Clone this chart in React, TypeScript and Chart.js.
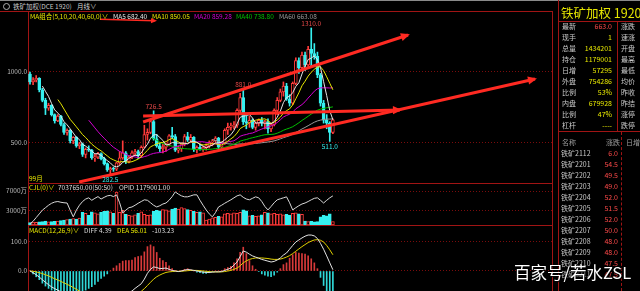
import React, { useEffect, useRef } from 'react';
import { Chart, registerables } from 'chart.js';

Chart.register(...registerables);

const FONT = '"Noto Sans CJK SC", "Noto Sans", sans-serif';
const RED = '#ff3a3a';
const CYAN = '#36f0f0';
const GRID = '#7a0c0c';
const FRAME = '#a01414';

// Monthly candles, Oct 2013 .. Dec 2021: [open, high, low, close]
const candles: number[][] = [
  [985, 1000, 915, 930], [930, 960, 910, 945], [945, 975, 930, 955], [955, 960, 860, 875],
  [875, 885, 790, 800], [800, 815, 700, 745], [745, 780, 730, 765], [765, 770, 690, 700],
  [700, 705, 640, 655], [655, 700, 650, 690], [690, 695, 620, 630], [630, 640, 560, 575],
  [575, 600, 555, 590], [590, 595, 500, 515], [515, 545, 495, 540], [540, 545, 470, 480],
  [480, 505, 460, 495], [495, 500, 405, 420], [420, 465, 395, 455], [455, 480, 440, 450],
  [450, 455, 385, 395], [395, 420, 370, 400], [400, 435, 390, 425], [425, 430, 380, 390],
  [390, 400, 345, 355], [355, 360, 300, 310], [310, 330, 282.5, 320], [320, 330, 300, 315],
  [315, 365, 305, 360], [360, 440, 345, 395], [395, 515, 385, 430], [430, 440, 355, 370],
  [370, 410, 360, 400], [400, 445, 390, 430], [430, 455, 410, 440], [440, 450, 390, 410],
  [410, 480, 400, 470], [470, 625, 465, 560], [560, 600, 520, 575], [575, 660, 565, 650],
  [650, 726.5, 520, 530], [530, 560, 470, 480], [480, 500, 440, 460], [460, 490, 430, 470],
  [470, 500, 440, 490], [490, 560, 480, 550], [550, 610, 530, 545], [545, 560, 440, 450],
  [450, 480, 430, 460], [460, 500, 440, 495], [495, 560, 480, 545], [545, 575, 510, 520],
  [520, 560, 505, 540], [540, 545, 440, 455], [455, 480, 430, 470], [470, 490, 450, 460],
  [460, 475, 440, 465], [465, 495, 450, 480], [480, 515, 465, 505], [505, 525, 480, 515],
  [515, 545, 505, 535], [535, 540, 455, 470], [470, 510, 455, 500], [500, 600, 490, 590],
  [590, 640, 560, 610], [610, 640, 590, 620], [620, 650, 600, 625], [625, 740, 610, 730],
  [730, 850, 700, 820], [820, 881, 630, 650], [650, 690, 600, 640], [640, 690, 610, 660],
  [660, 670, 600, 610], [610, 650, 590, 640], [640, 670, 620, 660], [660, 680, 620, 640],
  [640, 660, 600, 650], [650, 670, 570, 600], [600, 640, 580, 630], [630, 740, 620, 730],
  [730, 820, 700, 800], [800, 880, 790, 860], [860, 930, 830, 900], [900, 920, 800, 810],
  [810, 840, 760, 780], [780, 930, 770, 920], [920, 1100, 910, 1080], [1080, 1100, 990, 1030],
  [1030, 1140, 1010, 1120], [1120, 1140, 1010, 1050], [1050, 1180, 1040, 1160], [1160, 1310, 1040, 1130],
  [1130, 1200, 1090, 1110], [1110, 1140, 960, 980], [980, 990, 760, 780], [780, 800, 640, 660],
  [660, 700, 600, 640], [640, 650, 511, 575], [575, 670, 565, 663],
];

// volume (万手)
const volume = [
  500, 600, 550, 650, 700, 800, 650, 700, 750,
  800, 900, 1000, 1100, 1200, 1300, 1200, 1400,
  2600, 2400, 2000, 2700, 2500, 2300, 2600, 2800, 2900, 2700, 2400,
  6800,
  2600, 3000, 2200, 2000, 1900, 2100, 2400, 2700, 2200, 2000, 2100, 2800,
  3000, 2900, 3200, 3100, 2900, 3300,
  3500, 3300, 3600, 3400, 3200, 3000,
  2800, 2600, 2700, 2500, 1000, 1200,
  1500, 1600, 1800, 1700, 2300,
  2400, 2300, 2500, 2400, 2600,
  3100, 2900,
  1900, 2000, 1800, 1900, 2100,
  2600, 2500, 2300, 2400,
  2200, 2300, 2100, 2200, 2000,
  2400, 2500, 2300, 2200,
  800, 700, 750, 650, 700,
  1700, 2000, 1900, 2300,
  704,
];

// open interest (万手)
const openInterest = [
  5, 15, 30, 45, 60, 70, 80, 88, 93, 95, 92, 90, 89,
  60, 33, 60, 80, 95, 105, 110, 100, 108, 115, 105, 112, 118, 120, 115, 122,
  90, 49, 60, 70, 73, 80, 88, 95, 102, 100, 90, 80, 73, 78, 85, 89, 100, 115,
  134, 125, 118, 114, 114, 118, 122, 122, 100, 80, 61, 45, 33, 50, 73, 80,
  88, 95, 102, 110, 118, 122, 112, 105, 102, 108, 114, 110, 95, 75, 61, 75, 90,
  102, 106, 110, 114, 90, 61, 70, 78, 85, 89, 95, 102, 108, 110, 100, 89, 100, 110, 117.9,
];

const diff = [
  0, -6, -13, -21, -30, -39, -47, -55, -61, -66, -72, -78, -84, -90,
  -96, -101, -105, -109, -112, -114, -115, -115, -114, -112, -110, -108, -104, -99, -94, -88, -82, -78, -74, -69,
  -60, -52, -44, -28, -8, 6, 14, 12, 8, 9, 10, 6, 2,
  0, -2, 0, 3, 5, 4, 2, 0, -2, -4, -5, -5, -4, -3, -3, -2,
  2, 6, 10, 20, 31, 50, 69, 65, 58, 52, 48, 44, 40, 37, 34, 31,
  33, 38, 45, 55, 62, 75, 88, 100, 107, 114, 120, 124, 124, 121, 112, 95, 75, 52, 28, 4.39,
];

const dea = [
  0, -1, -3, -6, -9, -13, -17, -22, -27, -31, -36, -41, -46, -51,
  -57, -63, -69, -74, -79, -84, -88, -92, -96, -99, -101, -103, -104, -104, -103, -101, -99, -96, -92, -88,
  -83, -77, -70, -61, -50, -39, -28, -20, -14, -9, -5, -3, -2,
  -1, -1, -1, 0, 1, 2, 2, 2, 1, 0, -1, -2, -3, -3, -3, -3,
  -2, 0, 2, 6, 10, 18, 28, 35, 40, 43, 45, 45, 45, 44, 43, 41,
  40, 40, 41, 44, 48, 53, 60, 68, 76, 84, 91, 98, 103, 107, 108, 106, 100, 88, 73, 56.01,
];

const maPeriods = [5, 10, 20, 40, 60];
const maColors = ['#e6e6e6', '#e6e600', '#d400d4', '#00c000', '#9a9a9a'];
const maLegend = ['MA5 682.40', 'MA10 850.05', 'MA20 859.28', 'MA40 738.80', 'MA60 663.08'];

const priceTicks = [500, 1000];
const volumeTicks = [3000, 7000];
const macdTicks = [0, 100];

const peakLabels = [
  { i: 91, v: 1310, text: '1310.0', above: true },
  { i: 69, v: 881, text: '881.0', above: true },
  { i: 40, v: 726.5, text: '726.5', above: true },
  { i: 26, v: 282.5, text: '282.5', above: false },
  { i: 97, v: 511, text: '511.0', above: false },
];

// hand-drawn trend arrows, in (bar index, price) space
const trendLines = [
  { from: [15.9, 225.4], to: [163.4, 950.7], width: 3, head: 9 },
  { from: [36.6, 647.9], to: [122.3, 1260.6], width: 3, head: 9 },
  { from: [36.6, 690], to: [119.7, 732.4], width: 3, head: 9 },
  { from: [22.65, 1371], to: [40.45, 1361], width: 1.5, head: 6 },
];

const infoLabels = ['最新', '现手', '总量', '持仓', '日增', '外盘', '比例', '内盘', '比例', '杠杆'];
const infoValues = ['663.0', '1', '1434201', '1179001', '57295', '754286', '53%', '679928', '47%', '----'];
const infoRight = ['涨跌', '速涨', '开盘', '最高', '最低', '均价', '昨收', '昨结', '涨停', '跌停'];
const contracts = ['铁矿2112', '铁矿2201', '铁矿2202', '铁矿2203', '铁矿2204', '铁矿2205', '铁矿2206', '铁矿2207', '铁矿2208', '铁矿2209', '铁矿2210', '铁矿2211'];
const contractChange = ['6.0', '54.5', '49.5', '49.0', '52.0', '51.5', '52.0', '50.0', '48.0', '48.0', '47.5', '47.5'];

const X_MIN = -0.647;
const X_MAX = 168.9;

function yAxis(min: number, max: number, ticks: number[], fmt: (v: number) => string, extra: any = {}) {
  return {
    type: 'linear',
    position: 'left',
    min,
    max,
    afterBuildTicks: (s: any) => {
      s.ticks = ticks.map((v) => ({ value: v }));
    },
    afterFit: (s: any) => {
      s.width = 28;
      s.paddingTop = 0;
      s.paddingBottom = 0;
    },
    ticks: {
      color: '#b8b8b8',
      font: { size: 6.5, family: FONT },
      padding: 1,
      autoSkip: false,
      callback: (v: any) => fmt(Number(v)),
    },
    grid: { color: GRID, lineWidth: 1, drawTicks: false },
    border: { display: true, color: FRAME, width: 1, dash: [1, 2] },
    ...extra,
  };
}

const xAxis = { type: 'linear', min: X_MIN, max: X_MAX, display: false, offset: false };

const baseOptions = (scales: any) => ({
  responsive: false,
  animation: false,
  events: [],
  layout: { padding: 0 },
  plugins: { legend: { display: false }, tooltip: { enabled: false } },
  scales,
});

const arrowPlugin = {
  id: 'arrowHeads',
  afterDatasetsDraw(chart: any) {
    const ctx = chart.ctx;
    chart.data.datasets.forEach((ds: any, di: number) => {
      if (!ds.arrowHead) return;
      const pts = chart.getDatasetMeta(di).data;
      const a = pts[pts.length - 2];
      const b = pts[pts.length - 1];
      const ang = Math.atan2(b.y - a.y, b.x - a.x);
      const L = ds.arrowHead;
      const W = L * 0.45;
      const tx = b.x + Math.cos(ang) * 2;
      const ty = b.y + Math.sin(ang) * 2;
      const bx = tx - Math.cos(ang) * L;
      const by = ty - Math.sin(ang) * L;
      ctx.save();
      ctx.fillStyle = ds.borderColor;
      ctx.beginPath();
      ctx.moveTo(tx, ty);
      ctx.lineTo(bx - Math.sin(ang) * W, by + Math.cos(ang) * W);
      ctx.lineTo(bx + Math.sin(ang) * W, by - Math.cos(ang) * W);
      ctx.closePath();
      ctx.fill();
      ctx.restore();
    });
  },
};

const peakLabelPlugin = {
  id: 'peakLabels',
  afterDatasetsDraw(chart: any) {
    const { ctx } = chart;
    const xs = chart.scales.x;
    const ys = chart.scales.y;
    ctx.save();
    ctx.font = `6.5px ${FONT}`;
    ctx.textAlign = 'center';
    peakLabels.forEach((l) => {
      const px = xs.getPixelForValue(l.i);
      const py = ys.getPixelForValue(l.v);
      if (l.above) {
        ctx.fillStyle = '#e24848';
        ctx.textBaseline = 'bottom';
        ctx.fillText(l.text, px, py - 1);
      } else {
        ctx.fillStyle = CYAN;
        ctx.textBaseline = 'top';
        ctx.fillText(l.text, px, py + 2);
      }
    });
    ctx.restore();
  },
};

const isUp = (c: number[]) => c[3] >= c[0];

function Txt({ x, y, s = 6.5, c = '#c8c8c8', r = false, w = 120, children, style = {} }: any) {
  return (
    <div
      style={{
        position: 'absolute',
        left: r ? x - w : x,
        top: y - s,
        width: r ? w : undefined,
        height: s * 2,
        lineHeight: `${s * 2}px`,
        fontSize: s,
        color: c,
        textAlign: r ? 'right' : 'left',
        whiteSpace: 'nowrap',
        fontFamily: FONT,
        ...style,
      }}
    >
      {children}
    </div>
  );
}

function Line({ x, y, w, h, c = FRAME, dashed = false }: any) {
  return (
    <div
      style={{
        position: 'absolute',
        left: x,
        top: y,
        width: w,
        height: h,
        background: dashed ? 'none' : c,
        borderLeft: dashed && w <= 1 ? `1px dashed ${c}` : undefined,
        borderTop: dashed && h <= 1 ? `1px dashed ${c}` : undefined,
        boxSizing: 'border-box',
      }}
    />
  );
}

export default function App() {
  const priceRef = useRef<HTMLCanvasElement>(null);
  const volRef = useRef<HTMLCanvasElement>(null);
  const macdRef = useRef<HTMLCanvasElement>(null);

  useEffect(() => {
    const closes = candles.map((c) => c[3]);
    const ma = (n: number) => {
      const out: any[] = [];
      for (let i = n - 1; i < closes.length; i++) {
        let s = 0;
        for (let k = i - n + 1; k <= i; k++) s += closes[k];
        out.push({ x: i, y: s / n });
      }
      return out;
    };

    const priceDatasets: any[] = [];
    trendLines.forEach((t) => {
      priceDatasets.push({
        type: 'line',
        data: [{ x: t.from[0], y: t.from[1] }, { x: t.to[0], y: t.to[1] }],
        borderColor: '#ff2a22',
        borderWidth: t.width,
        pointRadius: 0,
        arrowHead: t.head,
        order: 0,
        clip: false,
      });
    });
    maPeriods.forEach((p, k) => {
      priceDatasets.push({
        type: 'line',
        data: ma(p),
        borderColor: maColors[k],
        borderWidth: 1,
        pointRadius: 0,
        tension: 0,
        order: 1,
      });
    });
    priceDatasets.push({
      type: 'bar',
      data: candles.map((c, i) => ({ x: i, y: [Math.min(c[0], c[3]), Math.max(c[0], c[3])] })),
      backgroundColor: candles.map((c) => (isUp(c) ? '#000000' : CYAN)),
      borderColor: candles.map((c) => (isUp(c) ? RED : CYAN)),
      borderWidth: 1,
      borderSkipped: false,
      barThickness: 3,
      minBarLength: 1,
      grouped: false,
      order: 2,
    });
    priceDatasets.push({
      type: 'bar',
      data: candles.map((c, i) => ({ x: i, y: [c[2], c[1]] })),
      backgroundColor: candles.map((c) => (isUp(c) ? RED : CYAN)),
      borderWidth: 0,
      barThickness: 1,
      grouped: false,
      order: 3,
    });

    const priceChart = new Chart(priceRef.current as any, {
      type: 'bar',
      data: { datasets: priceDatasets },
      options: baseOptions({
        x: xAxis,
        y: yAxis(218.3, 1422.5, priceTicks, (v) => v.toFixed(1)),
      }) as any,
      plugins: [arrowPlugin, peakLabelPlugin],
    } as any);

    const volChart = new Chart(volRef.current as any, {
      type: 'bar',
      data: {
        datasets: [
          {
            type: 'line',
            data: openInterest.map((v, i) => ({ x: i, y: v })),
            borderColor: '#d8d8d8',
            borderWidth: 1,
            pointRadius: 0,
            yAxisID: 'y2',
            order: 0,
          } as any,
          {
            type: 'bar',
            data: volume.map((v, i) => ({ x: i, y: v })),
            backgroundColor: candles.map((c) => (isUp(c) ? '#000000' : CYAN)),
            borderColor: candles.map((c) => (isUp(c) ? RED : CYAN)),
            borderWidth: 1,
            borderSkipped: false,
            barThickness: 3,
            grouped: false,
            order: 1,
          },
        ],
      },
      options: baseOptions({
        x: xAxis,
        y: yAxis(0, 8650, volumeTicks, (v) => `${v}万`),
        y2: { type: 'linear', min: 0, max: 170, display: false },
      }) as any,
    } as any);

    const hist = diff.map((d, i) => 2 * (d - dea[i]));
    const macdChart = new Chart(macdRef.current as any, {
      type: 'bar',
      data: {
        datasets: [
          {
            type: 'line',
            data: diff.map((v, i) => ({ x: i, y: v })),
            borderColor: '#e4e4e4',
            borderWidth: 1,
            pointRadius: 0,
            order: 0,
          } as any,
          {
            type: 'line',
            data: dea.map((v, i) => ({ x: i, y: v })),
            borderColor: '#e0d000',
            borderWidth: 1,
            pointRadius: 0,
            order: 1,
          } as any,
          {
            type: 'bar',
            data: hist.map((v, i) => ({ x: i, y: v })),
            backgroundColor: hist.map((v) => (v >= 0 ? '#d83a3a' : '#30d8d8')),
            borderWidth: 0,
            barThickness: 1,
            grouped: false,
            order: 2,
          },
        ],
      },
      options: baseOptions({
        x: xAxis,
        y: yAxis(-69, 158.6, macdTicks, (v) => v.toFixed(1)),
      }) as any,
    } as any);

    return () => {
      priceChart.destroy();
      volChart.destroy();
      macdChart.destroy();
    };
  }, []);

  const legendX = [113, 152, 194, 236, 279];

  return (
    <div
      style={{
        position: 'fixed',
        left: 0,
        top: 0,
        width: 640,
        height: 291,
        background: '#000',
        overflow: 'hidden',
        fontFamily: FONT,
      }}
    >
      {/* top header */}
      <Line x={0} y={0} w={640} h={1} c="#8a8a8a" />
      <div
        style={{
          position: 'absolute',
          left: 3,
          top: 3,
          width: 5,
          height: 5,
          borderRadius: 4,
          border: '1px solid #b0b0b0',
        }}
      />
      <Txt x={13} y={6.5} c="#c8c8c8">铁矿加权(DCE 1920)</Txt>
      <Txt x={77} y={6.5} c="#d8d8d8">月线∨</Txt>

      <canvas
        ref={priceRef}
        width={552}
        height={171}
        style={{ position: 'absolute', left: 0, top: 12, width: 552, height: 171 }}
      />
      <canvas
        ref={volRef}
        width={552}
        height={42}
        style={{ position: 'absolute', left: 0, top: 183, width: 552, height: 42 }}
      />
      <canvas
        ref={macdRef}
        width={552}
        height={66}
        style={{ position: 'absolute', left: 0, top: 225, width: 552, height: 66 }}
      />

      {/* panel frames */}
      <Line x={0} y={11} w={552} h={1} />
      <Line x={28} y={183} w={524} h={1} />
      <Line x={28} y={225} w={524} h={1} />
      <Line x={552} y={11} w={1} h={280} />

      {/* MA legend */}
      <Txt x={30} y={16} c="#e6e600">MA组合(5,10,20,40,60,0)∨</Txt>
      {maLegend.map((t, k) => (
        <Txt key={t} x={legendX[k]} y={16} c={maColors[k]}>
          {t}
        </Txt>
      ))}
      <Txt x={29} y={178} c="#e6e600">99月</Txt>

      {/* volume legend */}
      <Txt x={29} y={187} c="#e6e600">CJL(0)∨</Txt>
      <Txt x={58} y={187} c="#dcdcdc">7037650.00(50:50)</Txt>
      <Txt x={119} y={187} c="#dcdcdc">OPID 1179001.00</Txt>

      {/* MACD legend */}
      <Txt x={29} y={230} c="#e6e600">MACD(12,26,9)∨</Txt>
      <Txt x={84} y={230} c="#dcdcdc">DIFF 4.39</Txt>
      <Txt x={117} y={230} c="#e6e600">DEA 56.01</Txt>
      <Txt x={152} y={230} c="#dcdcdc">-103.23</Txt>

      {/* right info panel */}
      <Line x={558} y={0} w={1} h={291} />
      <Txt x={561} y={12} s={12.5} c="#e6e600">铁矿加权 1920</Txt>
      <Line x={558} y={21} w={82} h={1} />
      <Line x={617} y={21} w={1} h={110} />
      {infoLabels.map((t, k) => (
        <React.Fragment key={k}>
          <Txt x={562} y={26 + 11 * k} s={7} c="#c8c8c8">{t}</Txt>
          <Txt x={612} y={26 + 11 * k} s={7} r c={k === 0 ? '#ff4a4a' : '#e6e600'}>
            {infoValues[k]}
          </Txt>
          <Txt x={621} y={26 + 11 * k} s={7} c="#c8c8c8">{infoRight[k]}</Txt>
        </React.Fragment>
      ))}
      <Line x={558} y={131} w={82} h={1} />
      <Txt x={562} y={142} s={7} c="#9a9a9a">名称</Txt>
      <Txt x={606} y={142} s={7} c="#9a9a9a">涨跌</Txt>
      <Txt x={626} y={142} s={7} c="#9a9a9a">日增</Txt>
      <Line x={621} y={132} w={1} h={159} dashed />
      {contracts.map((t, k) => (
        <React.Fragment key={t}>
          <Txt x={561} y={153 + 11 * k} s={7} c="#c8c8c8">{t}</Txt>
          <Txt x={618} y={153 + 11 * k} s={7} r c="#ff4a4a">
            {contractChange[k]}
          </Txt>
        </React.Fragment>
      ))}

      {/* watermark */}
      <Txt
        x={514}
        y={272}
        s={16.5}
        c="#ffffff"
        style={{ textShadow: '0 0 2px #000, 1px 1px 1px #000' }}
      >
        百家号/若水ZSL
      </Txt>
    </div>
  );
}
